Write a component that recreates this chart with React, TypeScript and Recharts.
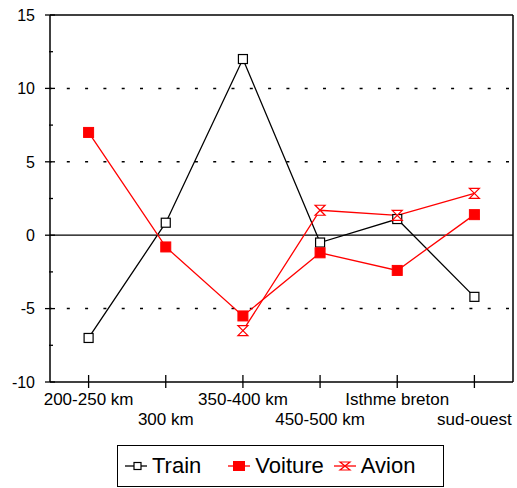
import React from "react";
import {
  LineChart,
  Line,
  XAxis,
  YAxis,
  ReferenceLine,
} from "recharts";

// categories and values
const categories = ["200-250 km", "300 km", "350-400 km", "450-500 km", "Isthme breton", "sud-ouest"];
const train = [-7, 0.85, 12, -0.5, 1.1, -4.2];
const voiture = [7, -0.8, -5.5, -1.2, -2.4, 1.4];
const avion = [null, null, -6.5, 1.7, 1.35, 2.85];
const yTicks = [-10, -7.5, -5, -2.5, 0, 2.5, 5, 7.5, 10, 12.5, 15];
const gridValues = [10, 5, -5];

const data = categories.map((name, i) => ({
  name,
  train: train[i],
  voiture: voiture[i],
  avion: avion[i],
}));

const FONT = "'Liberation Sans', Arial, sans-serif";
const RED = "#ff0000";

const YTick = (props: any) => {
  const { x, y, payload } = props;
  const v = payload.value;
  const major = v % 5 === 0;
  return (
    <g>
      {major ? (
        <>
          <line x1={x - 5} y1={y} x2={x + 5} y2={y} stroke="#000" strokeWidth={1.3} />
          <text x={x - 15} y={y} dy="0.36em" textAnchor="end" fontSize={16} fontFamily={FONT} fill="#000">
            {v}
          </text>
        </>
      ) : (
        <line x1={x - 1} y1={y} x2={x + 3} y2={y} stroke="#000" strokeWidth={1.3} />
      )}
    </g>
  );
};

const XTick = (props: any) => {
  const { x, y, payload, index } = props;
  return (
    <g>
      <line x1={x} y1={y - 7} x2={x} y2={y + 6} stroke="#000" strokeWidth={1.3} />
      <text x={x} y={y} dy={index % 2 === 0 ? 23 : 43} textAnchor="middle" fontSize={17} fontFamily={FONT} fill="#000">
        {payload.value}
      </text>
    </g>
  );
};

const OpenSquare = (props: any) => {
  const { cx, cy, index } = props;
  if (cx == null || cy == null) return <g key={index} />;
  return <rect key={index} x={cx - 4.5} y={cy - 4.5} width={9} height={9} fill="#fff" stroke="#000" strokeWidth={1.2} />;
};

const FilledSquare = (props: any) => {
  const { cx, cy, index } = props;
  if (cx == null || cy == null) return <g key={index} />;
  return <rect key={index} x={cx - 5} y={cy - 5} width={10} height={10} fill={RED} stroke={RED} />;
};

const Hourglass = (props: any) => {
  const { cx, cy, index } = props;
  if (cx == null || cy == null) return <g key={index} />;
  const s = 5;
  return (
    <path
      key={index}
      d={`M${cx - s},${cy - s} L${cx + s},${cy - s} L${cx - s},${cy + s} L${cx + s},${cy + s} Z`}
      fill="#fff"
      stroke={RED}
      strokeWidth={1.2}
    />
  );
};

const LegendItem = ({ color, marker, label, mr }: any) => (
  <div style={{ display: "flex", alignItems: "center", marginRight: mr }}>
    <svg width={22} height={14} style={{ marginRight: 5 }}>
      <line x1={0} y1={7} x2={22} y2={7} stroke={color} strokeWidth={1.3} />
      {marker}
    </svg>
    <span style={{ fontSize: 22, fontFamily: FONT, color: "#000" }}>{label}</span>
  </div>
);

export default function App() {
  return (
    <div style={{ position: "absolute", left: 0, top: 0, width: 517, height: 488, background: "#fff" }}>
      <LineChart width={517} height={488} data={data} margin={{ top: 14, right: 0, left: 0, bottom: 0 }}>
        {gridValues.map((v) => (
          <ReferenceLine key={v} y={v} stroke="#000" strokeWidth={1.5} strokeDasharray="3 15.3" strokeDashoffset={-16.8} />
        ))}
        <ReferenceLine y={0} stroke="#000" strokeWidth={1.3} />
        <XAxis
          dataKey="name"
          padding={{ left: 38.6, right: 38.6 }}
          axisLine={{ stroke: "#000", strokeWidth: 1.5 }}
          tickLine={false}
          tickSize={0}
          tickMargin={0}
          interval={0}
          height={106}
          tick={<XTick />}
        />
        <XAxis
          xAxisId="top"
          orientation="top"
          dataKey="name"
          padding={{ left: 38.6, right: 38.6 }}
          axisLine={{ stroke: "#000", strokeWidth: 1.5 }}
          tickLine={false}
          tick={false}
          height={1}
        />
        <YAxis
          domain={[-10, 15]}
          ticks={yTicks}
          interval={0}
          width={50}
          axisLine={{ stroke: "#000", strokeWidth: 1.5 }}
          tickLine={false}
          tickSize={0}
          tickMargin={0}
          tick={<YTick />}
        />
        <YAxis
          yAxisId="right"
          orientation="right"
          domain={[-10, 15]}
          width={4}
          axisLine={{ stroke: "#000", strokeWidth: 1.5 }}
          tickLine={false}
          tick={false}
        />
        <Line dataKey="train" stroke="#000" strokeWidth={1.3} dot={OpenSquare} activeDot={false} isAnimationActive={false} type="linear" />
        <Line dataKey="voiture" stroke={RED} strokeWidth={1.3} dot={FilledSquare} activeDot={false} isAnimationActive={false} type="linear" />
        <Line dataKey="avion" stroke={RED} strokeWidth={1.3} dot={Hourglass} activeDot={false} isAnimationActive={false} type="linear" />
      </LineChart>
      <div
        style={{
          position: "absolute",
          left: 117,
          top: 445,
          width: 327,
          height: 42,
          border: "1.5px solid #000",
          boxSizing: "border-box",
          display: "flex",
          alignItems: "center",
          paddingLeft: 7,
        }}
      >
        <LegendItem
          color="#000"
          label="Train"
          mr={27}
          marker={<rect x={9} y={3.5} width={7} height={7} fill="#fff" stroke="#000" strokeWidth={1.2} />}
        />
        <LegendItem
          color={RED}
          label="Voiture"
          mr={10}
          marker={<rect x={5} y={2} width={12} height={10} fill={RED} />}
        />
        <LegendItem
          color={RED}
          label="Avion"
          mr={0}
          marker={<path d="M6,3 L16,3 L6,11 L16,11 Z" fill="#fff" stroke={RED} strokeWidth={1.2} />}
        />
      </div>
    </div>
  );
}
